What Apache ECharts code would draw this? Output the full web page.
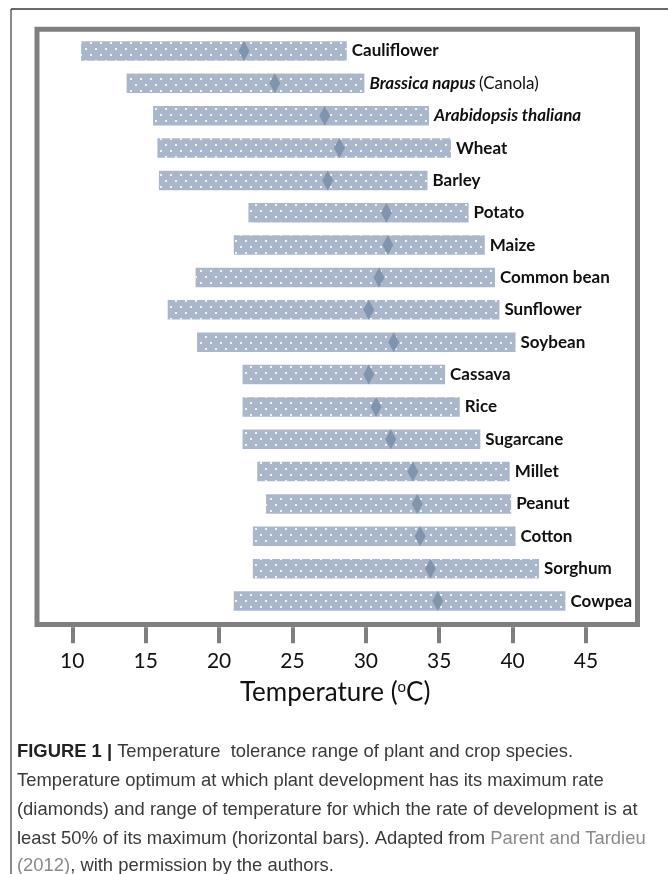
<!DOCTYPE html>
<html>
<head>
<meta charset="utf-8">
<script src="https://cdn.jsdelivr.net/npm/echarts@6/dist/echarts.min.js"></script>
<style>
html,body{margin:0;padding:0;background:#fff;}
#c{width:668px;height:874px;}
</style>
</head>
<body>
<div id="c"></div>
<script>
// Crop species (top to bottom)
const categories = ['Cauliflower','Brassica napus (Canola)','Arabidopsis thaliana','Wheat','Barley','Potato','Maize','Common bean','Sunflower','Soybean','Cassava','Rice','Sugarcane','Millet','Peanut','Cotton','Sorghum','Cowpea'];
// Lower end of range where development rate >= 50% of max (°C)
const rangeStart = [10.6,13.7,15.5,15.8,15.9,22.0,21.0,18.4,16.5,18.5,21.6,21.6,21.6,22.6,23.2,22.3,22.3,21.0];
// Upper end of that range (°C)
const rangeEnd   = [28.7,29.9,34.3,35.8,34.2,37.0,38.1,38.8,39.1,40.2,35.4,36.4,37.8,39.8,39.9,40.2,41.8,43.6];
// Temperature optimum (diamonds, °C)
const optimum    = [21.7,23.8,27.2,28.2,27.4,31.4,31.5,30.9,30.2,31.9,30.2,30.7,31.7,33.2,33.5,33.7,34.4,34.9];
// Axis ticks
const xMin = 10, xMax = 45, xStep = 5;

const chart = echarts.init(document.getElementById('c'), null, {renderer:'canvas'});

const barColor = '#aab7ca';
const diamondColor = '#8194ae';
const frameColor = '#7f7f7f';
const capFont = 'Liberation Sans';
const capSize = 18.4;

function labelFmt(p){
  const n = p.name;
  if (n === 'Brassica napus (Canola)') return '{i|Brassica napus} {r|(Canola)}';
  if (n === 'Arabidopsis thaliana') return '{i|Arabidopsis thaliana}';
  return '{n|' + n + '}';
}

const option = {
  animation: false,
  backgroundColor: '#fff',
  grid: { left: 72.3, right: 82, top: 34.8, height: 582.4 },
  xAxis: {
    type: 'value', min: xMin, max: xMax, interval: xStep,
    offset: 10,
    axisLine: { show: false },
    axisTick: { show: true, length: 16, lineStyle: { color: frameColor, width: 4 } },
    splitLine: { show: false },
    axisLabel: { color: '#111', fontSize: 21, fontFamily: 'Lato', margin: 24 },
    name: 'Temperature ({s|o}C)',
    nameLocation: 'middle',
    nameGap: 52,
    nameTextStyle: {
      color: '#111', fontSize: 26, fontFamily: 'Lato', padding: [0,0,0,12],
      rich: { s: { fontSize: 15, fontFamily: 'Lato', color: '#111', verticalAlign: 'top', padding: [0,0,10,0] } }
    }
  },
  yAxis: {
    type: 'category', data: categories, inverse: true,
    axisLine: { show: false }, axisTick: { show: false }, axisLabel: { show: false }, splitLine: { show: false }
  },
  series: [
    {
      type: 'bar', stack: 'r', data: rangeStart, barWidth: 19.5, silent: true,
      itemStyle: { color: 'rgba(0,0,0,0)' }
    },
    {
      type: 'bar', stack: 'r', barWidth: 19.5,
      data: rangeEnd.map((e, i) => +(e - rangeStart[i]).toFixed(2)),
      itemStyle: {
        color: barColor,
        decal: {
          symbol: 'rect', symbolSize: 1,
          color: 'rgba(255,255,255,0.85)',
          dashArrayX: [[1.8, 7.2], [0, 4.5, 1.8, 2.7]],
          dashArrayY: [1.8, 3.2]
        }
      },
      label: {
        show: true, position: 'right', distance: 5, formatter: labelFmt,
        rich: {
          n: { fontFamily: 'Lato', fontWeight: 'bold', fontSize: 17, color: '#111' },
          i: { fontFamily: 'Lato', fontWeight: 'bold', fontStyle: 'italic', fontSize: 17, color: '#111' },
          r: { fontFamily: 'Lato', fontWeight: 'normal', fontSize: 17, color: '#111' }
        }
      }
    },
    {
      type: 'scatter', z: 5,
      data: optimum.map((v, i) => [v, i]),
      symbol: 'diamond', symbolSize: [11, 20],
      itemStyle: { color: diamondColor, opacity: 1 }
    }
  ],
  graphic: [
    { type: 'line', shape: { x1: 11, y1: 9, x2: 668, y2: 9 }, style: { stroke: '#3a3a3a', lineWidth: 1.5 }, z: 0 },
    { type: 'line', shape: { x1: 11, y1: 9, x2: 11, y2: 874 }, style: { stroke: '#3a3a3a', lineWidth: 1.2 }, z: 0 },
    { type: 'rect', shape: { x: 37, y: 29.2, width: 600.5, height: 595.3 }, style: { fill: 'none', stroke: frameColor, lineWidth: 5 }, z: 0 },
    { type: 'text', left: 17, top: 743, style: { text: '{b|FIGURE 1 |} Temperature  tolerance range of plant and crop species.', fontSize: capSize, fontFamily: capFont, fill: '#3a3a3a',
        rich: { b: { fontWeight: 'bold', fontSize: capSize, fontFamily: capFont, fill: '#222' } } } },
    { type: 'text', left: 17, top: 772, style: { text: 'Temperature optimum at which plant development has its maximum rate', fontSize: capSize, fontFamily: capFont, fill: '#3a3a3a' } },
    { type: 'text', left: 17, top: 801, style: { text: '(diamonds) and range of temperature for which the rate of development is at', fontSize: capSize, fontFamily: capFont, fill: '#3a3a3a' } },
    { type: 'text', left: 17, top: 830, style: { text: 'least 50% of its maximum (horizontal bars). Adapted from {g|Parent and Tardieu}', fontSize: capSize, fontFamily: capFont, fill: '#3a3a3a',
        rich: { g: { fontSize: capSize, fontFamily: capFont, fill: '#8a8a8a' } } } },
    { type: 'text', left: 17, top: 857, style: { text: '{g|(2012)}, with permission by the authors.', fontSize: capSize, fontFamily: capFont, fill: '#3a3a3a',
        rich: { g: { fontSize: capSize, fontFamily: capFont, fill: '#8a8a8a' } } } }
  ]
};
chart.setOption(option);
</script>
</body>
</html>
